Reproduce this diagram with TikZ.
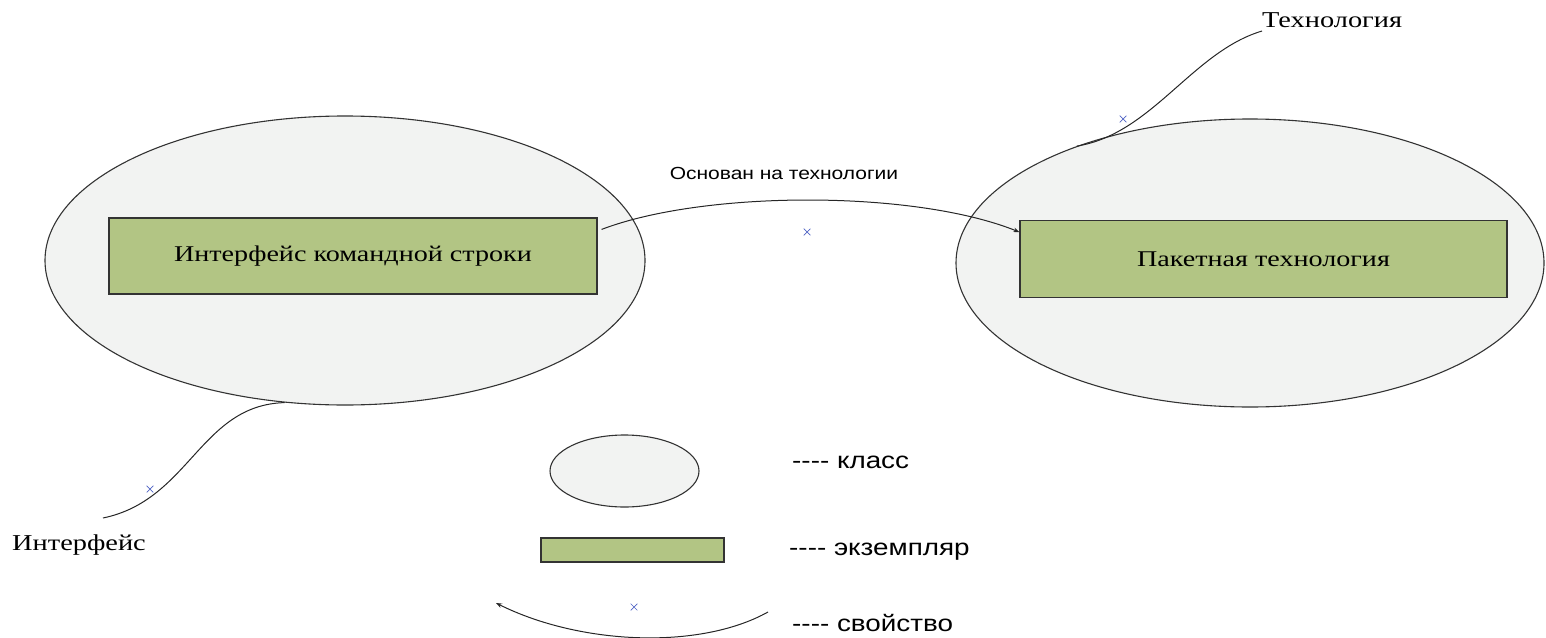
\documentclass[tikz,border=0pt]{standalone}
\usepackage{fontspec}
\usetikzlibrary{shapes.geometric,shapes.misc,arrows.meta,calc}
\newfontfamily\serifw{Liberation Serif}[FakeStretch=1.25]
\newfontfamily\sansw{Liberation Sans}[FakeStretch=1.2]
\definecolor{classfill}{HTML}{F2F3F2}
\definecolor{instfill}{HTML}{B2C584}
\definecolor{outline}{HTML}{333333}
\definecolor{markblue}{HTML}{4F63C4}
\tikzset{
  classnode/.style={ellipse, draw=outline, fill=classfill, line width=1.1pt, inner sep=0pt},
  instnode/.style={rectangle, draw=outline, fill=instfill, line width=1.2pt, inner sep=0pt,
    font=\serifw\fontsize{22.5}{26}\selectfont},
  proparrow/.style={draw=black!85, line width=1pt},
  propmark/.style={cross out, draw=markblue, line width=0.7pt, minimum size=6pt, inner sep=0pt},
  seriflabel/.style={font=\serifw\fontsize{22.7}{26}\selectfont, inner sep=0pt},
  sanslabel/.style={font=\sansw\fontsize{17.5}{21}\selectfont, inner sep=0pt},
  legendlabel/.style={font=\sansw\fontsize{23.2}{27}\selectfont, inner sep=0pt, anchor=west},
}
\newcommand\dashes{-{}-{}-{}-}
\begin{document}
\begin{tikzpicture}[x=1pt, y=-1pt]
\useasboundingbox (0,0) rectangle (1546,637);

% classes with their instances
\node[classnode, minimum width=600pt, minimum height=289pt] (CL) at (345,260.5) {};
\node[classnode, minimum width=588pt, minimum height=288pt] (CR) at (1250,263) {};
\node[instnode, minimum width=488pt, minimum height=76pt] (L) at (353,256) {Интерфейс командной строки};
\node[instnode, minimum width=487pt, minimum height=77pt] (R) at (1263.5,259.2) {Пакетная технология};

% property between the two instances
\draw[proparrow, -{Stealth[length=6pt, width=4.5pt]}]
  ($(L.north east)+(4,12)$) .. controls (705,190) and (915,190) .. ($(R.north west)+(0,12)$);
\node[sanslabel] (edgelabel) at (784,173) {Основан на технологии};
\node[propmark] (m1) at (807,232) {};

% class names
\coordinate (tEnd) at (1262,31);
\draw[proparrow] (CR.146.5) .. controls (1152,134) and (1192,52) .. (tEnd);
\node[propmark] (m2) at (1123,119) {};
\node[seriflabel, anchor=west] (tlabel) at (1262,20) {Технология};

\coordinate (iEnd) at (103,518);
\draw[proparrow] (CL.247.7) .. controls (200,405) and (190,500) .. (iEnd);
\node[propmark] (m3) at (150,489) {};
\node[seriflabel, anchor=west] (ilabel) at (12,545) {Интерфейс};

% legend
\node[classnode, minimum width=149pt, minimum height=72pt] (lgC) at (624.5,471) {};
\node[instnode, minimum width=183pt, minimum height=24pt] (lgI) at (632.5,550) {};
\coordinate (lgA) at (768,612);
\coordinate (lgB) at (496,603);
\draw[proparrow, -{Stealth[length=6pt, width=4.5pt]}] (lgA) .. controls (700,650) and (580,645) .. (lgB);
\node[propmark] (m4) at (634,607) {};
\node[legendlabel] (lgCt) at (792,462) {\dashes\ класс};
\node[legendlabel] (lgIt) at (789,552) {\dashes\ экземпляр};
\node[legendlabel] (lgPt) at (792,623) {\dashes\ свойство};
\end{tikzpicture}
\end{document}
